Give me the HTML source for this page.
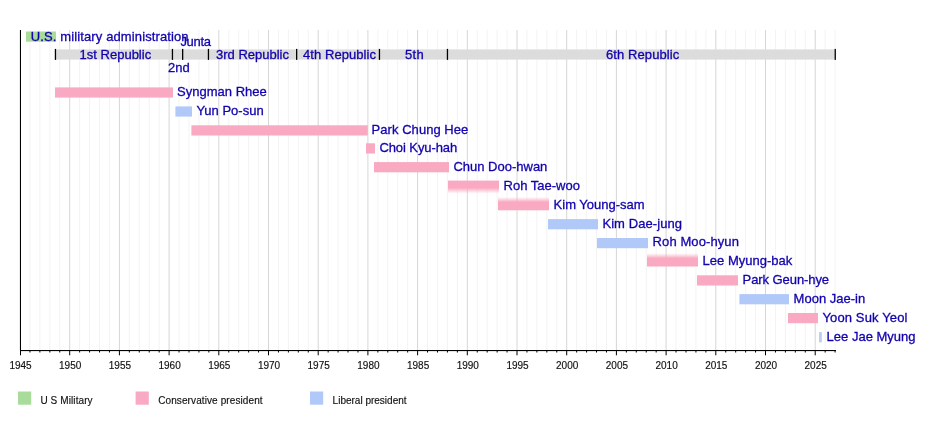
<!DOCTYPE html>
<html lang="en"><head><meta charset="utf-8"><title>Presidents of South Korea timeline</title>
<style>html,body{margin:0;padding:0;background:#fff;}body{width:935px;height:430px;overflow:hidden;}svg{display:block;}text{font-family:"Liberation Sans",Arial,Helvetica,sans-serif;}.l{font-size:13px;fill:#1203ae;stroke:#1203ae;stroke-width:0.3px;}.a{font-size:10px;fill:#111;stroke:#111;stroke-width:0.15px;}</style></head><body>
<svg width="935" height="430" viewBox="0 0 935 430">
<rect width="935" height="430" fill="#fff"/>
<g stroke-width="1">
<line x1="20.00" y1="30" x2="20.00" y2="350.5" stroke="#d6d6d6"/>
<line x1="29.94" y1="30" x2="29.94" y2="350.5" stroke="#f3f3f3"/>
<line x1="39.88" y1="30" x2="39.88" y2="350.5" stroke="#f3f3f3"/>
<line x1="49.82" y1="30" x2="49.82" y2="350.5" stroke="#f3f3f3"/>
<line x1="59.76" y1="30" x2="59.76" y2="350.5" stroke="#f3f3f3"/>
<line x1="69.70" y1="30" x2="69.70" y2="350.5" stroke="#d6d6d6"/>
<line x1="79.64" y1="30" x2="79.64" y2="350.5" stroke="#f3f3f3"/>
<line x1="89.58" y1="30" x2="89.58" y2="350.5" stroke="#f3f3f3"/>
<line x1="99.52" y1="30" x2="99.52" y2="350.5" stroke="#f3f3f3"/>
<line x1="109.46" y1="30" x2="109.46" y2="350.5" stroke="#f3f3f3"/>
<line x1="119.40" y1="30" x2="119.40" y2="350.5" stroke="#d6d6d6"/>
<line x1="129.34" y1="30" x2="129.34" y2="350.5" stroke="#f3f3f3"/>
<line x1="139.28" y1="30" x2="139.28" y2="350.5" stroke="#f3f3f3"/>
<line x1="149.22" y1="30" x2="149.22" y2="350.5" stroke="#f3f3f3"/>
<line x1="159.16" y1="30" x2="159.16" y2="350.5" stroke="#f3f3f3"/>
<line x1="169.10" y1="30" x2="169.10" y2="350.5" stroke="#d6d6d6"/>
<line x1="179.04" y1="30" x2="179.04" y2="350.5" stroke="#f3f3f3"/>
<line x1="188.98" y1="30" x2="188.98" y2="350.5" stroke="#f3f3f3"/>
<line x1="198.92" y1="30" x2="198.92" y2="350.5" stroke="#f3f3f3"/>
<line x1="208.86" y1="30" x2="208.86" y2="350.5" stroke="#f3f3f3"/>
<line x1="218.80" y1="30" x2="218.80" y2="350.5" stroke="#d6d6d6"/>
<line x1="228.74" y1="30" x2="228.74" y2="350.5" stroke="#f3f3f3"/>
<line x1="238.68" y1="30" x2="238.68" y2="350.5" stroke="#f3f3f3"/>
<line x1="248.62" y1="30" x2="248.62" y2="350.5" stroke="#f3f3f3"/>
<line x1="258.56" y1="30" x2="258.56" y2="350.5" stroke="#f3f3f3"/>
<line x1="268.50" y1="30" x2="268.50" y2="350.5" stroke="#d6d6d6"/>
<line x1="278.44" y1="30" x2="278.44" y2="350.5" stroke="#f3f3f3"/>
<line x1="288.38" y1="30" x2="288.38" y2="350.5" stroke="#f3f3f3"/>
<line x1="298.32" y1="30" x2="298.32" y2="350.5" stroke="#f3f3f3"/>
<line x1="308.26" y1="30" x2="308.26" y2="350.5" stroke="#f3f3f3"/>
<line x1="318.20" y1="30" x2="318.20" y2="350.5" stroke="#d6d6d6"/>
<line x1="328.14" y1="30" x2="328.14" y2="350.5" stroke="#f3f3f3"/>
<line x1="338.08" y1="30" x2="338.08" y2="350.5" stroke="#f3f3f3"/>
<line x1="348.02" y1="30" x2="348.02" y2="350.5" stroke="#f3f3f3"/>
<line x1="357.96" y1="30" x2="357.96" y2="350.5" stroke="#f3f3f3"/>
<line x1="367.90" y1="30" x2="367.90" y2="350.5" stroke="#d6d6d6"/>
<line x1="377.84" y1="30" x2="377.84" y2="350.5" stroke="#f3f3f3"/>
<line x1="387.78" y1="30" x2="387.78" y2="350.5" stroke="#f3f3f3"/>
<line x1="397.72" y1="30" x2="397.72" y2="350.5" stroke="#f3f3f3"/>
<line x1="407.66" y1="30" x2="407.66" y2="350.5" stroke="#f3f3f3"/>
<line x1="417.60" y1="30" x2="417.60" y2="350.5" stroke="#d6d6d6"/>
<line x1="427.54" y1="30" x2="427.54" y2="350.5" stroke="#f3f3f3"/>
<line x1="437.48" y1="30" x2="437.48" y2="350.5" stroke="#f3f3f3"/>
<line x1="447.42" y1="30" x2="447.42" y2="350.5" stroke="#f3f3f3"/>
<line x1="457.36" y1="30" x2="457.36" y2="350.5" stroke="#f3f3f3"/>
<line x1="467.30" y1="30" x2="467.30" y2="350.5" stroke="#d6d6d6"/>
<line x1="477.24" y1="30" x2="477.24" y2="350.5" stroke="#f3f3f3"/>
<line x1="487.18" y1="30" x2="487.18" y2="350.5" stroke="#f3f3f3"/>
<line x1="497.12" y1="30" x2="497.12" y2="350.5" stroke="#f3f3f3"/>
<line x1="507.06" y1="30" x2="507.06" y2="350.5" stroke="#f3f3f3"/>
<line x1="517.00" y1="30" x2="517.00" y2="350.5" stroke="#d6d6d6"/>
<line x1="526.94" y1="30" x2="526.94" y2="350.5" stroke="#f3f3f3"/>
<line x1="536.88" y1="30" x2="536.88" y2="350.5" stroke="#f3f3f3"/>
<line x1="546.82" y1="30" x2="546.82" y2="350.5" stroke="#f3f3f3"/>
<line x1="556.76" y1="30" x2="556.76" y2="350.5" stroke="#f3f3f3"/>
<line x1="566.70" y1="30" x2="566.70" y2="350.5" stroke="#d6d6d6"/>
<line x1="576.64" y1="30" x2="576.64" y2="350.5" stroke="#f3f3f3"/>
<line x1="586.58" y1="30" x2="586.58" y2="350.5" stroke="#f3f3f3"/>
<line x1="596.52" y1="30" x2="596.52" y2="350.5" stroke="#f3f3f3"/>
<line x1="606.46" y1="30" x2="606.46" y2="350.5" stroke="#f3f3f3"/>
<line x1="616.40" y1="30" x2="616.40" y2="350.5" stroke="#d6d6d6"/>
<line x1="626.34" y1="30" x2="626.34" y2="350.5" stroke="#f3f3f3"/>
<line x1="636.28" y1="30" x2="636.28" y2="350.5" stroke="#f3f3f3"/>
<line x1="646.22" y1="30" x2="646.22" y2="350.5" stroke="#f3f3f3"/>
<line x1="656.16" y1="30" x2="656.16" y2="350.5" stroke="#f3f3f3"/>
<line x1="666.10" y1="30" x2="666.10" y2="350.5" stroke="#d6d6d6"/>
<line x1="676.04" y1="30" x2="676.04" y2="350.5" stroke="#f3f3f3"/>
<line x1="685.98" y1="30" x2="685.98" y2="350.5" stroke="#f3f3f3"/>
<line x1="695.92" y1="30" x2="695.92" y2="350.5" stroke="#f3f3f3"/>
<line x1="705.86" y1="30" x2="705.86" y2="350.5" stroke="#f3f3f3"/>
<line x1="715.80" y1="30" x2="715.80" y2="350.5" stroke="#d6d6d6"/>
<line x1="725.74" y1="30" x2="725.74" y2="350.5" stroke="#f3f3f3"/>
<line x1="735.68" y1="30" x2="735.68" y2="350.5" stroke="#f3f3f3"/>
<line x1="745.62" y1="30" x2="745.62" y2="350.5" stroke="#f3f3f3"/>
<line x1="755.56" y1="30" x2="755.56" y2="350.5" stroke="#f3f3f3"/>
<line x1="765.50" y1="30" x2="765.50" y2="350.5" stroke="#d6d6d6"/>
<line x1="775.44" y1="30" x2="775.44" y2="350.5" stroke="#f3f3f3"/>
<line x1="785.38" y1="30" x2="785.38" y2="350.5" stroke="#f3f3f3"/>
<line x1="795.32" y1="30" x2="795.32" y2="350.5" stroke="#f3f3f3"/>
<line x1="805.26" y1="30" x2="805.26" y2="350.5" stroke="#f3f3f3"/>
<line x1="815.20" y1="30" x2="815.20" y2="350.5" stroke="#d6d6d6"/>
<line x1="825.14" y1="30" x2="825.14" y2="350.5" stroke="#f3f3f3"/>
<line x1="835.08" y1="30" x2="835.08" y2="350.5" stroke="#f3f3f3"/>
</g>
<rect x="26" y="31.5" width="30" height="10.2" fill="#a9dc9a"/>
<rect x="55.4" y="49.4" width="779.8" height="10.2" fill="#dcdcdc"/>
<rect x="54.8" y="48.9" width="1.3" height="11" fill="#000"/>
<rect x="171.8" y="48.9" width="1.3" height="11" fill="#000"/>
<rect x="182.0" y="48.9" width="1.3" height="11" fill="#000"/>
<rect x="207.8" y="48.9" width="1.3" height="11" fill="#000"/>
<rect x="296.0" y="48.9" width="1.3" height="11" fill="#000"/>
<rect x="378.8" y="48.9" width="1.3" height="11" fill="#000"/>
<rect x="446.8" y="48.9" width="1.3" height="11" fill="#000"/>
<rect x="834.6" y="48.9" width="1.3" height="11" fill="#000"/>
<defs><linearGradient id="fd" x1="0" y1="0" x2="0" y2="1"><stop offset="0" stop-color="#f9a9c1"/><stop offset="0.55" stop-color="#f9a9c1"/><stop offset="0.8" stop-color="#f9a9c1" stop-opacity="0.45"/><stop offset="1" stop-color="#f9a9c1" stop-opacity="0"/></linearGradient><linearGradient id="fu" x1="0" y1="1" x2="0" y2="0"><stop offset="0" stop-color="#f9a9c1"/><stop offset="0.62" stop-color="#f9a9c1"/><stop offset="0.82" stop-color="#f9a9c1" stop-opacity="0.45"/><stop offset="1" stop-color="#f9a9c1" stop-opacity="0"/></linearGradient></defs>
<rect x="55" y="87.4" width="118.0" height="10.2" fill="#f9a9c1"/>
<rect x="175.4" y="106.4" width="16.6" height="10.2" fill="#b1c9f9"/>
<rect x="191.4" y="125.3" width="176.4" height="10.2" fill="#f9a9c1"/>
<rect x="366" y="143.3" width="9.0" height="10.2" fill="#f9a9c1"/>
<rect x="374" y="162.1" width="75.0" height="10.2" fill="#f9a9c1"/>
<rect x="448" y="180.6" width="51.0" height="13.0" fill="url(#fd)"/>
<rect x="498" y="197.0" width="51.0" height="13.3" fill="url(#fu)"/>
<rect x="548" y="219.1" width="50.0" height="10.2" fill="#b1c9f9"/>
<rect x="597" y="238" width="51.0" height="10.2" fill="#b1c9f9"/>
<rect x="647" y="253.2" width="51.0" height="13.3" fill="url(#fu)"/>
<rect x="697" y="275.3" width="41.0" height="10.2" fill="#f9a9c1"/>
<rect x="739.4" y="294.1" width="49.6" height="10.2" fill="#b1c9f9"/>
<rect x="788" y="313" width="30.0" height="10.2" fill="#f9a9c1"/>
<rect x="819.1" y="332.1" width="2.7" height="10.2" fill="#b9cbf6"/>
<text class="l" x="177.1" y="96">Syngman Rhee</text>
<text class="l" x="196.4" y="115">Yun Po-sun</text>
<text class="l" x="371.6" y="134" textLength="96.7">Park Chung Hee</text>
<text class="l" x="379.4" y="151.8" textLength="77.8">Choi Kyu-hah</text>
<text class="l" x="453.4" y="170.6">Chun Doo-hwan</text>
<text class="l" x="503.6" y="189.6">Roh Tae-woo</text>
<text class="l" x="553.6" y="208.6">Kim Young-sam</text>
<text class="l" x="602.4" y="227.6" textLength="79.6">Kim Dae-jung</text>
<text class="l" x="652.6" y="246.4" textLength="86.3">Roh Moo-hyun</text>
<text class="l" x="702.6" y="265">Lee Myung-bak</text>
<text class="l" x="742.6" y="284" textLength="86.5">Park Geun-hye</text>
<text class="l" x="793.6" y="302.6">Moon Jae-in</text>
<text class="l" x="822.4" y="321.6" textLength="85.0">Yoon Suk Yeol</text>
<text class="l" x="826.6" y="340.6">Lee Jae Myung</text>
<text class="l" x="30.8" y="40.6" textLength="157.8">U.S. military administration</text>
<text class="l" x="180.4" y="46" textLength="30.6">Junta</text>
<text class="l" x="168" y="71.7">2nd</text>
<text class="l" x="79.6" y="58.9">1st Republic</text>
<text class="l" x="216" y="58.9">3rd Republic</text>
<text class="l" x="303" y="58.9" textLength="73">4th Republic</text>
<text class="l" x="405" y="58.9" textLength="18.8">5th</text>
<text class="l" x="606" y="58.9" textLength="73.3">6th Republic</text>
<rect x="20" y="30" width="1" height="321.0" fill="#000"/>
<rect x="20" y="350" width="815.9" height="1.1" fill="#000"/>
<rect x="20.00" y="350" width="1" height="5.3" fill="#000"/>
<text class="a" text-anchor="middle" x="20.50" y="369">1945</text>
<rect x="29.44" y="350" width="1" height="2.5" fill="#000"/>
<rect x="39.38" y="350" width="1" height="2.5" fill="#000"/>
<rect x="49.32" y="350" width="1" height="2.5" fill="#000"/>
<rect x="59.26" y="350" width="1" height="2.5" fill="#000"/>
<rect x="69.20" y="350" width="1" height="5.3" fill="#000"/>
<text class="a" text-anchor="middle" x="70.20" y="369">1950</text>
<rect x="79.14" y="350" width="1" height="2.5" fill="#000"/>
<rect x="89.08" y="350" width="1" height="2.5" fill="#000"/>
<rect x="99.02" y="350" width="1" height="2.5" fill="#000"/>
<rect x="108.96" y="350" width="1" height="2.5" fill="#000"/>
<rect x="118.90" y="350" width="1" height="5.3" fill="#000"/>
<text class="a" text-anchor="middle" x="119.90" y="369">1955</text>
<rect x="128.84" y="350" width="1" height="2.5" fill="#000"/>
<rect x="138.78" y="350" width="1" height="2.5" fill="#000"/>
<rect x="148.72" y="350" width="1" height="2.5" fill="#000"/>
<rect x="158.66" y="350" width="1" height="2.5" fill="#000"/>
<rect x="168.60" y="350" width="1" height="5.3" fill="#000"/>
<text class="a" text-anchor="middle" x="169.60" y="369">1960</text>
<rect x="178.54" y="350" width="1" height="2.5" fill="#000"/>
<rect x="188.48" y="350" width="1" height="2.5" fill="#000"/>
<rect x="198.42" y="350" width="1" height="2.5" fill="#000"/>
<rect x="208.36" y="350" width="1" height="2.5" fill="#000"/>
<rect x="218.30" y="350" width="1" height="5.3" fill="#000"/>
<text class="a" text-anchor="middle" x="219.30" y="369">1965</text>
<rect x="228.24" y="350" width="1" height="2.5" fill="#000"/>
<rect x="238.18" y="350" width="1" height="2.5" fill="#000"/>
<rect x="248.12" y="350" width="1" height="2.5" fill="#000"/>
<rect x="258.06" y="350" width="1" height="2.5" fill="#000"/>
<rect x="268.00" y="350" width="1" height="5.3" fill="#000"/>
<text class="a" text-anchor="middle" x="269.00" y="369">1970</text>
<rect x="277.94" y="350" width="1" height="2.5" fill="#000"/>
<rect x="287.88" y="350" width="1" height="2.5" fill="#000"/>
<rect x="297.82" y="350" width="1" height="2.5" fill="#000"/>
<rect x="307.76" y="350" width="1" height="2.5" fill="#000"/>
<rect x="317.70" y="350" width="1" height="5.3" fill="#000"/>
<text class="a" text-anchor="middle" x="318.70" y="369">1975</text>
<rect x="327.64" y="350" width="1" height="2.5" fill="#000"/>
<rect x="337.58" y="350" width="1" height="2.5" fill="#000"/>
<rect x="347.52" y="350" width="1" height="2.5" fill="#000"/>
<rect x="357.46" y="350" width="1" height="2.5" fill="#000"/>
<rect x="367.40" y="350" width="1" height="5.3" fill="#000"/>
<text class="a" text-anchor="middle" x="368.40" y="369">1980</text>
<rect x="377.34" y="350" width="1" height="2.5" fill="#000"/>
<rect x="387.28" y="350" width="1" height="2.5" fill="#000"/>
<rect x="397.22" y="350" width="1" height="2.5" fill="#000"/>
<rect x="407.16" y="350" width="1" height="2.5" fill="#000"/>
<rect x="417.10" y="350" width="1" height="5.3" fill="#000"/>
<text class="a" text-anchor="middle" x="418.10" y="369">1985</text>
<rect x="427.04" y="350" width="1" height="2.5" fill="#000"/>
<rect x="436.98" y="350" width="1" height="2.5" fill="#000"/>
<rect x="446.92" y="350" width="1" height="2.5" fill="#000"/>
<rect x="456.86" y="350" width="1" height="2.5" fill="#000"/>
<rect x="466.80" y="350" width="1" height="5.3" fill="#000"/>
<text class="a" text-anchor="middle" x="467.80" y="369">1990</text>
<rect x="476.74" y="350" width="1" height="2.5" fill="#000"/>
<rect x="486.68" y="350" width="1" height="2.5" fill="#000"/>
<rect x="496.62" y="350" width="1" height="2.5" fill="#000"/>
<rect x="506.56" y="350" width="1" height="2.5" fill="#000"/>
<rect x="516.50" y="350" width="1" height="5.3" fill="#000"/>
<text class="a" text-anchor="middle" x="517.50" y="369">1995</text>
<rect x="526.44" y="350" width="1" height="2.5" fill="#000"/>
<rect x="536.38" y="350" width="1" height="2.5" fill="#000"/>
<rect x="546.32" y="350" width="1" height="2.5" fill="#000"/>
<rect x="556.26" y="350" width="1" height="2.5" fill="#000"/>
<rect x="566.20" y="350" width="1" height="5.3" fill="#000"/>
<text class="a" text-anchor="middle" x="567.20" y="369">2000</text>
<rect x="576.14" y="350" width="1" height="2.5" fill="#000"/>
<rect x="586.08" y="350" width="1" height="2.5" fill="#000"/>
<rect x="596.02" y="350" width="1" height="2.5" fill="#000"/>
<rect x="605.96" y="350" width="1" height="2.5" fill="#000"/>
<rect x="615.90" y="350" width="1" height="5.3" fill="#000"/>
<text class="a" text-anchor="middle" x="616.90" y="369">2005</text>
<rect x="625.84" y="350" width="1" height="2.5" fill="#000"/>
<rect x="635.78" y="350" width="1" height="2.5" fill="#000"/>
<rect x="645.72" y="350" width="1" height="2.5" fill="#000"/>
<rect x="655.66" y="350" width="1" height="2.5" fill="#000"/>
<rect x="665.60" y="350" width="1" height="5.3" fill="#000"/>
<text class="a" text-anchor="middle" x="666.60" y="369">2010</text>
<rect x="675.54" y="350" width="1" height="2.5" fill="#000"/>
<rect x="685.48" y="350" width="1" height="2.5" fill="#000"/>
<rect x="695.42" y="350" width="1" height="2.5" fill="#000"/>
<rect x="705.36" y="350" width="1" height="2.5" fill="#000"/>
<rect x="715.30" y="350" width="1" height="5.3" fill="#000"/>
<text class="a" text-anchor="middle" x="716.30" y="369">2015</text>
<rect x="725.24" y="350" width="1" height="2.5" fill="#000"/>
<rect x="735.18" y="350" width="1" height="2.5" fill="#000"/>
<rect x="745.12" y="350" width="1" height="2.5" fill="#000"/>
<rect x="755.06" y="350" width="1" height="2.5" fill="#000"/>
<rect x="765.00" y="350" width="1" height="5.3" fill="#000"/>
<text class="a" text-anchor="middle" x="766.00" y="369">2020</text>
<rect x="774.94" y="350" width="1" height="2.5" fill="#000"/>
<rect x="784.88" y="350" width="1" height="2.5" fill="#000"/>
<rect x="794.82" y="350" width="1" height="2.5" fill="#000"/>
<rect x="804.76" y="350" width="1" height="2.5" fill="#000"/>
<rect x="814.70" y="350" width="1" height="5.3" fill="#000"/>
<text class="a" text-anchor="middle" x="815.70" y="369">2025</text>
<rect x="824.64" y="350" width="1" height="2.5" fill="#000"/>
<rect x="834.58" y="350" width="1" height="2.5" fill="#000"/>
<rect x="18" y="391.5" width="13.2" height="13.2" fill="#a9dc9a"/>
<rect x="135.6" y="391.5" width="13.2" height="13.2" fill="#f9a9c1"/>
<rect x="310" y="391.5" width="13.2" height="13.2" fill="#b1c9f9"/>
<text class="a" x="40.4" y="404" textLength="52.2">U S Military</text>
<text class="a" x="158.2" y="404" textLength="104.4">Conservative president</text>
<text class="a" x="332.6" y="404">Liberal president</text>
</svg></body></html>
